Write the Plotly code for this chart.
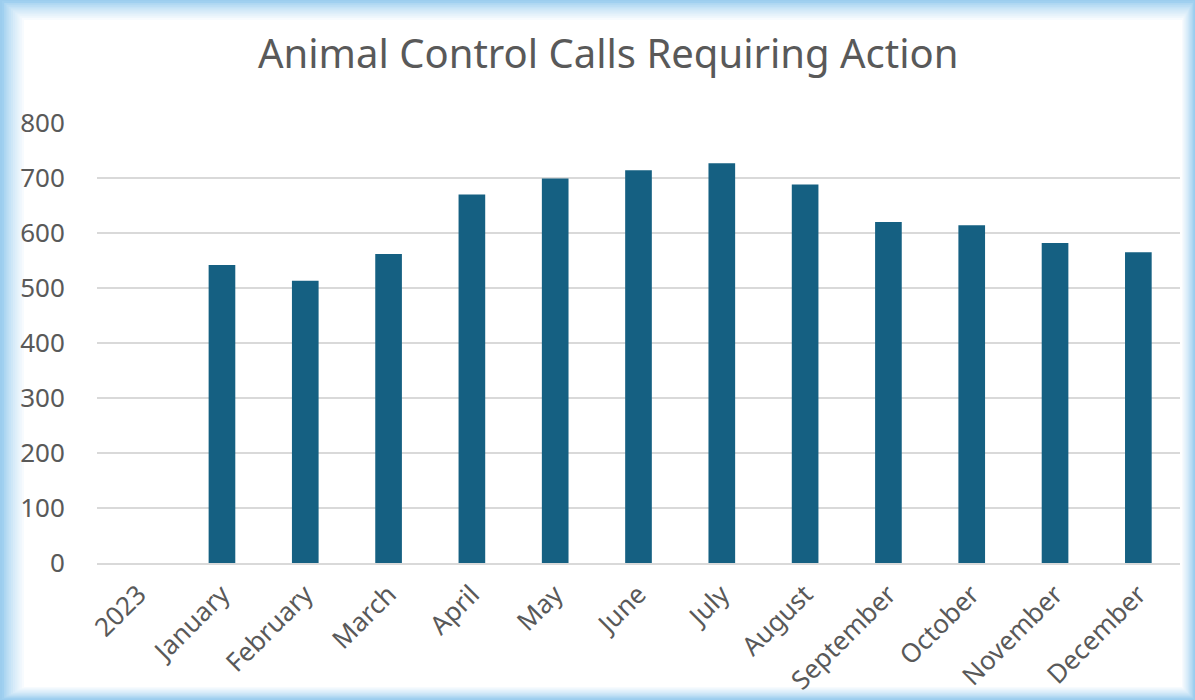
import plotly.graph_objects as go

months = ["2023", "January", "February", "March", "April", "May", "June",
          "July", "August", "September", "October", "November", "December"]
calls = [None, 542, 513, 562, 670, 699, 714, 727, 688, 620, 614, 582, 565]
y_ticks = [0, 100, 200, 300, 400, 500, 600, 700, 800]

W, H = 1195, 700
_L, _R, _T, _B = 97, 15, 123, 137
_BAR = "#156082"
_TEXT = "#595959"
_GRID = "#d9d9d9"
_EDGE = (160, 208, 240)
_FONT = "Noto Sans, Open Sans, sans-serif"


def _px(x0, y0, x1, y1):
    """Convert pixel box to paper coords of the plot area."""
    pw, ph = W - _L - _R, H - _T - _B
    return dict(x0=(x0 - _L) / pw, x1=(x1 - _L) / pw,
                y0=(H - _B - y0) / ph, y1=(H - _B - y1) / ph)


fig = go.Figure(
    go.Bar(
        x=months,
        y=calls,
        marker_color=_BAR,
        marker_line_width=0,
        width=0.32,
        hoverinfo="x+y",
    )
)

# soft blue frame fading into the white panel
steps = 10
outer = (2, 1, 1194, 699)
inner = (24, 20, 1182, 687)
for i in range(steps + 1):
    t = i / steps
    box = [o + (n - o) * t for o, n in zip(outer, inner)]
    c = [round(e + (255 - e) * t ** 0.8) for e in _EDGE]
    fig.add_shape(type="rect", xref="paper", yref="paper", layer="below",
                  line_width=0, fillcolor=f"rgb({c[0]},{c[1]},{c[2]})",
                  **_px(*box))

fig.update_layout(
    width=W,
    height=H,
    paper_bgcolor="#9ccdee",
    plot_bgcolor="rgba(0,0,0,0)",
    margin=dict(l=_L, r=_R, t=_T, b=_B, pad=0),
    showlegend=False,
    bargap=0.68,
    font=dict(family=_FONT, color=_TEXT),
    title=dict(
        text="Animal Control Calls Requiring Action",
        x=0.509, xanchor="center",
        y=1 - 54 / H, yanchor="middle", yref="container",
        font=dict(size=40, color=_TEXT, family=_FONT),
    ),
    xaxis=dict(
        automargin=False,
        tickangle=-45,
        tickfont=dict(size=26, color=_TEXT),
        showgrid=False,
        showline=True,
        linecolor=_GRID,
        linewidth=1.5,
        ticks="outside",
        ticklen=4,
        tickcolor="rgba(0,0,0,0)",
    ),
    yaxis=dict(
        automargin=False,
        range=[0, 800],
        tickvals=y_ticks,
        tickfont=dict(size=26, color=_TEXT),
        gridcolor=_GRID,
        gridwidth=1.5,
        zeroline=False,
        ticks="outside",
        ticklen=26,
        tickcolor="rgba(0,0,0,0)",
    ),
)

fig.write_html("out.html", config={"displayModeBar": False},
               post_script="document.body.style.margin='0';")
